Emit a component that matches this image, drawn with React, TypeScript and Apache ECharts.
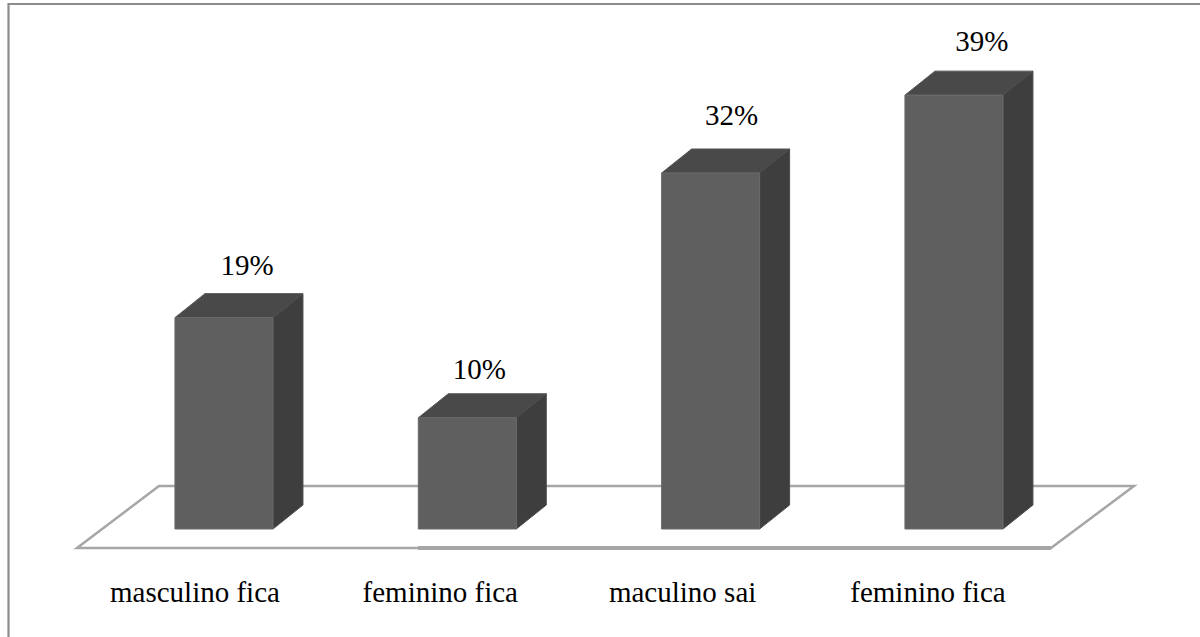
import React, { useEffect, useRef } from "react";
import * as echarts from "echarts";

const categories = ["masculino fica", "feminino fica", "maculino sai", "feminino fica"];
const values = [19, 10, 32, 39];
const valueLabels = ["19%", "10%", "32%", "39%"];

// Layout only: nudges for the percent labels and the category labels
const labelNudgeX = [23, 12, 21, 28];
const labelNudgeY = [-29, -25, -34, -30];
const categoryShift = [58, 54, 56, 52];

const DEPTH_X = 30;
const DEPTH_Y = 24;
const BAR_W = 98;
const FONT = '"Liberation Serif", "Times New Roman", serif';
const FONT_SIZE = 29;

const renderBar = (params: any, api: any) => {
  const i = params.dataIndex;
  const [cx, yTop] = api.coord([api.value(0), api.value(1)]);
  const [, yBase] = api.coord([api.value(0), 0]);
  const l = cx - BAR_W / 2;
  const r = cx + BAR_W / 2;
  const front = "#5f5f5f";
  const top = "#494949";
  const side = "#3e3e3e";
  return {
    type: "group",
    children: [
      {
        type: "polygon",
        shape: { points: [[l, yTop], [l + DEPTH_X, yTop - DEPTH_Y], [r + DEPTH_X, yTop - DEPTH_Y], [r, yTop]] },
        style: { fill: top, stroke: "#555555", lineWidth: 1 },
      },
      {
        type: "polygon",
        shape: { points: [[r, yTop], [r + DEPTH_X, yTop - DEPTH_Y], [r + DEPTH_X, yBase - DEPTH_Y], [r, yBase]] },
        style: { fill: side, stroke: "#4c4c4c", lineWidth: 1 },
      },
      {
        type: "rect",
        shape: { x: l, y: yTop, width: BAR_W, height: yBase - yTop },
        style: { fill: front, stroke: "#6a6a6a", lineWidth: 1 },
      },
      {
        type: "text",
        style: {
          text: valueLabels[i],
          x: cx + DEPTH_X / 2 + labelNudgeX[i] - 15,
          y: yTop - DEPTH_Y + labelNudgeY[i],
          align: "center",
          verticalAlign: "middle",
          fill: "#000000",
          font: `${FONT_SIZE}px ${FONT}`,
        },
      },
    ],
  };
};

export default function App() {
  const ref = useRef<HTMLDivElement>(null);
  useEffect(() => {
    const chart = echarts.init(ref.current!, undefined, { renderer: "svg" });
    const floorStroke = "#a6a6a6";
    const rich: Record<string, any> = {};
    categoryShift.forEach((s, i) => {
      rich["c" + i] = { padding: [0, s, 0, 0], fontFamily: FONT, fontSize: FONT_SIZE, color: "#000000" };
    });
    chart.setOption({
      animation: false,
      backgroundColor: "#ffffff",
      grid: { left: 102.3, right: 124.4, top: 84, bottom: 108, containLabel: false },
      xAxis: {
        type: "category",
        data: categories,
        axisLine: { show: false },
        axisTick: { show: false },
        axisLabel: {
          margin: 48,
          interval: 0,
          formatter: (v: string, i: number) => `{c${i}|${v}}`,
          rich,
        },
      },
      yAxis: { type: "value", min: 0, max: 40, show: false, splitLine: { show: false } },
      graphic: [
        {
          type: "polyline",
          z: 0,
          shape: { points: [[8.5, 637], [8.5, 4], [1200, 4]] },
          style: { fill: "none", stroke: "#8c8c8c", lineWidth: 2.2 },
        },
        {
          type: "polygon",
          z: 0,
          shape: { points: [[77, 548], [159, 486], [1134, 486], [1051, 548]] },
          style: { fill: "#ffffff", stroke: floorStroke, lineWidth: 2.5 },
        },
        {
          type: "line",
          z: 0,
          shape: { x1: 418, y1: 548, x2: 1051, y2: 548 },
          style: { stroke: floorStroke, lineWidth: 4 },
        },
      ],
      series: [
        {
          type: "custom",
          renderItem: renderBar,
          encode: { x: 0, y: 1 },
          data: values.map((v, i) => [i, v]),
          clip: false,
          z: 5,
        },
      ],
    });
    return () => chart.dispose();
  }, []);
  return <div ref={ref} style={{ position: "fixed", left: 0, top: 0, width: 1200, height: 637 }} />;
}
